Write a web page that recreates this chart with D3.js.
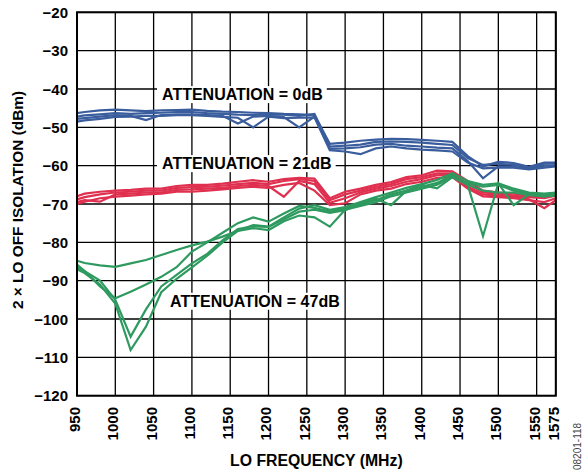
<!DOCTYPE html>
<html>
<head>
<meta charset="utf-8">
<script src="https://cdn.jsdelivr.net/npm/d3@7"></script>
<style>
  html, body { margin: 0; padding: 0; background: #fff; }
  svg { display: block; }
  text { font-family: "Liberation Sans", Arial, Helvetica, sans-serif; font-weight: bold; fill: #000; }
</style>
</head>
<body>
<svg id="chart" width="584" height="472"></svg>
<script>
// ---------- DATA ----------
const freqMHz = [950, 960, 980, 1000, 1020, 1040, 1060, 1080, 1100, 1120, 1140, 1160, 1180, 1200, 1220, 1240, 1260, 1280, 1300, 1320, 1340, 1360, 1380, 1400, 1420, 1440, 1460, 1480, 1500, 1520, 1540, 1560, 1575];

const xTicks = [950, 1000, 1050, 1100, 1150, 1200, 1250, 1300, 1350, 1400, 1450, 1500, 1550, 1575];
const yTicks = [-20, -30, -40, -50, -60, -70, -80, -90, -100, -110, -120];

// Attenuation = 0 dB (blue)
const att0_a = [-46.3, -46.0, -45.6, -45.4, -45.6, -45.8, -45.6, -45.5, -45.4, -45.7, -45.9, -46.0, -46.2, -46.3, -46.5, -46.6, -46.8, -54.3, -54.0, -53.5, -53.2, -53.0, -53.1, -53.3, -53.5, -53.8, -57.5, -60.2, -59.0, -59.3, -60.3, -59.2, -59.2];
const att0_b = [-47.2, -46.9, -46.6, -46.3, -46.5, -46.3, -46.2, -46.0, -46.0, -46.3, -46.5, -46.7, -46.8, -46.6, -46.7, -47.0, -46.5, -55.0, -54.8, -54.5, -53.8, -53.7, -53.8, -54.0, -54.3, -54.6, -58.0, -59.8, -59.5, -59.8, -60.5, -59.5, -59.5];
const att0_c = [-47.8, -47.6, -47.2, -46.8, -47.0, -48.1, -46.8, -46.6, -46.6, -46.8, -47.0, -49.0, -47.2, -47.0, -47.3, -50.0, -47.2, -55.6, -55.5, -55.2, -54.5, -54.3, -54.8, -55.0, -55.3, -55.5, -58.8, -63.3, -60.2, -60.3, -60.8, -60.0, -60.0];
const att0_d = [-48.5, -48.2, -47.8, -47.3, -47.2, -47.0, -47.0, -46.8, -46.8, -47.0, -47.3, -47.5, -50.0, -47.2, -47.6, -47.5, -47.4, -56.0, -56.3, -57.0, -55.5, -55.0, -55.5, -55.8, -56.0, -56.3, -59.2, -60.7, -60.5, -60.5, -61.0, -60.5, -60.2];

// Attenuation = 21 dB (red)
const att21_a = [-68.0, -67.3, -66.8, -66.5, -66.3, -66.0, -66.0, -65.3, -65.0, -65.0, -64.7, -64.2, -63.8, -64.2, -63.5, -63.2, -63.4, -68.5, -66.8, -66.0, -65.0, -64.3, -63.0, -62.5, -61.3, -61.5, -64.0, -66.5, -67.0, -67.3, -67.8, -68.0, -67.2];
const att21_b = [-68.8, -68.2, -67.5, -67.0, -66.8, -66.5, -66.5, -65.8, -65.6, -65.5, -65.2, -64.8, -64.5, -64.8, -64.0, -63.5, -64.0, -69.0, -67.5, -66.5, -65.5, -64.8, -63.5, -63.0, -62.0, -62.0, -64.8, -67.0, -67.3, -67.8, -68.2, -68.5, -67.8];
const att21_c = [-69.5, -69.0, -69.4, -67.5, -67.3, -67.0, -67.0, -66.3, -66.2, -66.0, -65.8, -65.3, -65.0, -65.3, -68.1, -64.0, -64.8, -69.7, -68.5, -67.0, -66.0, -65.3, -64.2, -63.5, -62.5, -62.3, -65.5, -67.5, -67.8, -68.2, -68.8, -71.1, -69.0];
const att21_d = [-70.0, -69.4, -68.5, -68.1, -67.8, -67.5, -67.3, -66.8, -66.8, -66.5, -66.2, -65.8, -65.5, -65.8, -65.0, -64.5, -66.5, -70.3, -69.8, -67.5, -66.5, -66.0, -64.8, -64.2, -63.2, -63.0, -66.0, -68.0, -68.2, -68.5, -69.0, -69.5, -68.5];

// Attenuation = 47 dB (green)
const att47_a = [-84.8, -85.4, -86.0, -86.4, -85.5, -84.6, -83.3, -82.0, -80.8, -79.8, -78.5, -77.0, -75.5, -75.9, -73.5, -71.2, -70.3, -71.5, -70.8, -69.5, -68.2, -67.0, -65.8, -64.8, -63.7, -62.0, -64.0, -65.0, -64.6, -66.0, -67.0, -67.3, -67.0];
const att47_b = [-85.8, -87.5, -91.5, -94.6, -92.9, -91.0, -89.0, -86.5, -82.4, -80.0, -77.5, -75.0, -73.5, -74.6, -72.5, -70.5, -71.0, -72.0, -71.2, -69.8, -68.6, -70.3, -66.5, -65.0, -65.9, -63.0, -64.5, -65.5, -65.0, -66.5, -67.3, -67.5, -67.2];
const att47_c = [-86.5, -87.5, -90.0, -95.0, -104.6, -97.5, -91.5, -88.5, -85.5, -83.0, -79.5, -76.5, -75.8, -76.0, -74.0, -72.0, -71.5, -72.3, -71.6, -70.0, -69.0, -67.5, -66.5, -65.5, -64.5, -62.5, -65.0, -66.5, -67.0, -67.0, -67.7, -68.0, -67.8];
const att47_d = [-87.0, -88.0, -91.0, -96.0, -108.1, -102.0, -93.0, -89.5, -86.5, -83.5, -80.0, -77.0, -76.3, -76.8, -74.5, -73.0, -73.5, -75.9, -71.5, -70.5, -69.5, -68.0, -67.0, -66.0, -65.0, -63.0, -65.0, -78.4, -64.6, -70.3, -67.5, -68.0, -67.5];

const labelTexts = ["ATTENUATION = 0dB", "ATTENUATION = 21dB", "ATTENUATION = 47dB"];
const labelFreq  = [1061, 1061, 1071.5];
const labelLevel = [-42.9, -60.9, -96.8];

// ---------- CHART ----------
const svg = d3.select("#chart");
const x = d3.scaleLinear().domain([950, 1575]).range([77, 555.8]);
const y = d3.scaleLinear().domain([-120, -20]).range([395.7, 12.3]);

// grid
const g = svg.append("g");
g.selectAll(".vg").data(xTicks).enter().append("line")
  .attr("x1", d => x(d)).attr("x2", d => x(d))
  .attr("y1", y(-20)).attr("y2", y(-120))
  .attr("stroke", "#000").attr("stroke-width", 1.3);
g.selectAll(".hg").data(yTicks).enter().append("line")
  .attr("x1", x(950)).attr("x2", x(1575))
  .attr("y1", d => y(d)).attr("y2", d => y(d))
  .attr("stroke", "#000").attr("stroke-width", 1.3);

// label boxes
const lg = svg.append("g");
labelTexts.forEach((txt, i) => {
  const t = lg.append("text")
    .attr("x", x(labelFreq[i])).attr("y", y(labelLevel[i]))
    .attr("font-size", 16)
    .text(txt);
  const bb = t.node().getBBox();
  lg.insert("rect", "text")
    .attr("x", bb.x - 5).attr("y", bb.y)
    .attr("width", bb.width + 9).attr("height", bb.height)
    .attr("fill", "#fff");
});

// lines
const line = d3.line().x((d, i) => x(freqMHz[i])).y(d => y(d));
const series = [
  { c: "#e0304f", data: [att21_a, att21_b, att21_c, att21_d] },
  { c: "#2e9a5f", data: [att47_a, att47_b, att47_c, att47_d] },
  { c: "#3a5d9d", data: [att0_a, att0_b, att0_c, att0_d] }
];
series.forEach(s => {
  s.data.forEach(arr => {
    svg.append("path").attr("d", line(arr))
      .attr("fill", "none").attr("stroke", s.c)
      .attr("stroke-width", 2.2).attr("stroke-linejoin", "miter");
  });
});

// frame
svg.append("rect")
  .attr("x", x(950)).attr("y", y(-20))
  .attr("width", x(1575) - x(950)).attr("height", y(-120) - y(-20))
  .attr("fill", "none").attr("stroke", "#000").attr("stroke-width", 2);

// y tick labels
svg.append("g").selectAll("text").data(yTicks).enter().append("text")
  .attr("x", 68).attr("y", d => y(d)).attr("dy", "0.38em")
  .attr("text-anchor", "end").attr("font-size", 15)
  .text(d => d3.format("d")(d));

// x tick labels (rotated)
svg.append("g").selectAll("text").data(xTicks).enter().append("text")
  .attr("transform", d => `translate(${x(d) - 2.5},407) rotate(-90)`)
  .attr("dy", "0.36em")
  .attr("text-anchor", "end").attr("font-size", 15)
  .text(d => d);

// axis titles
svg.append("text")
  .attr("x", x(1262.5)).attr("y", 465.5)
  .attr("text-anchor", "middle").attr("font-size", 15.8)
  .text("LO FREQUENCY (MHz)");
svg.append("text")
  .attr("transform", `translate(23,200) rotate(-90)`)
  .attr("text-anchor", "middle").attr("font-size", 15.4)
  .text("2 × LO OFF ISOLATION (dBm)");

// figure code
svg.append("text")
  .attr("transform", "translate(581,470) rotate(-90)")
  .attr("font-size", 10)
  .style("font-weight", "normal").style("fill", "#444")
  .text("08201-118");
</script>
</body>
</html>
